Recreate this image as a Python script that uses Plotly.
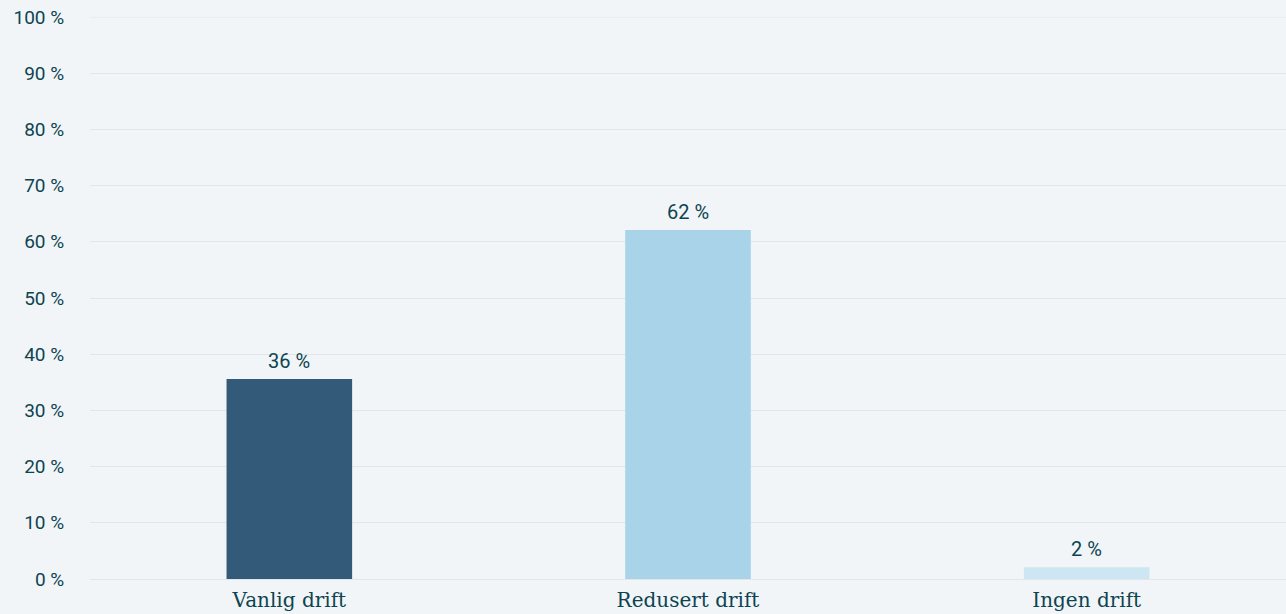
import plotly.graph_objects as go

categories = ["Vanlig drift", "Redusert drift", "Ingen drift"]
values = [35.6, 62.1, 2.1]
labels = ["36 %", "62 %", "2 %"]
colors = ["#335a78", "#a9d3e8", "#cde6f3"]
tick_vals = [0, 10, 20, 30, 40, 50, 60, 70, 80, 90, 100]
tick_text = [f"{v} %" for v in tick_vals]

text_color = "#0d4451"
bg = "#f1f5f7"
grid = "#e1e6e9"

fig = go.Figure()
fig.add_trace(go.Bar(
    x=categories, y=values,
    marker=dict(color=colors, line=dict(width=0)),
    width=0.315,
    hoverinfo="skip",
))

for c, v, t in zip(categories, values, labels):
    fig.add_annotation(x=c, y=v, text=t, showarrow=False, yanchor="bottom",
                       yshift=4, font=dict(family="Roboto", size=20, color=text_color))

# top gridline (plotly omits the gridline at the range edge)
fig.add_shape(type="line", xref="paper", x0=0, x1=1, yref="y", y0=tick_vals[-1], y1=tick_vals[-1],
              line=dict(color=grid, width=1), layer="below")

fig.update_layout(
    width=1286, height=614,
    margin=dict(l=90, r=0, t=17, b=35),
    paper_bgcolor=bg, plot_bgcolor=bg,
    showlegend=False,
    xaxis=dict(
        tickfont=dict(family="DejaVu Serif", size=20, color=text_color),
        showgrid=False, zeroline=False, showline=False,
        ticks="outside", ticklen=3, tickcolor="rgba(0,0,0,0)",
        range=[-0.5, 2.5],
    ),
    yaxis=dict(
        range=[0, 100], tickvals=tick_vals, ticktext=tick_text,
        tickfont=dict(family="Roboto", size=19, color=text_color),
        gridcolor=grid, gridwidth=1,
        zeroline=True, zerolinecolor=grid, zerolinewidth=1, showline=False,
        ticks="outside", ticklen=21, tickcolor="rgba(0,0,0,0)",
    ),
)
fig.write_html(
    "out.html",
    config={"displayModeBar": False},
    post_script="document.body.style.margin='0';document.body.style.background='%s';" % bg,
)
